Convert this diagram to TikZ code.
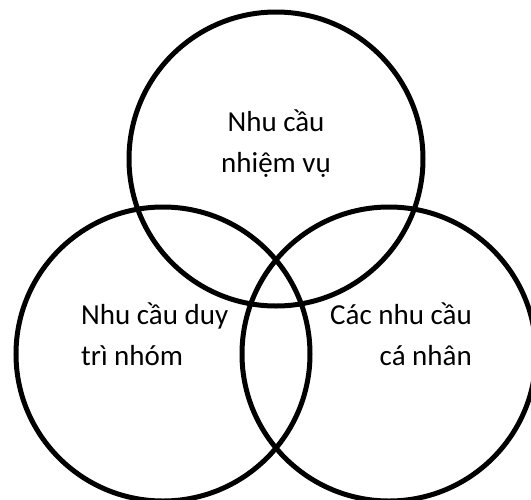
\documentclass[tikz,border=0pt]{standalone}
\usepackage{fontspec}
\setmainfont{Carlito}
\usepackage{tikz}
\usetikzlibrary{positioning}

\tikzset{
  needring/.style={line width=5pt,black},
  needtext/.style={inner sep=0pt,font=\fontsize{29}{41}\selectfont}
}

\begin{document}
\begin{tikzpicture}[x=1pt,y=-1pt]
  \useasboundingbox (0,0) rectangle (531,499);
  % three overlapping circles
  \draw[needring] (276,159) circle (147);
  \draw[needring] (163,354) circle (147);
  \draw[needring] (389,354) circle (147);
  % labels
  \node[needtext,align=center,anchor=base] (task) at (276,172) {Nhu cầu\\nhiệm vụ};
  \node[needtext,align=left,anchor=base west] (group) at (81,365) {Nhu cầu duy\\trì nhóm};
  \node[needtext,align=right,anchor=base east] (self) at (472,365) {Các nhu cầu\\cá nhân};
\end{tikzpicture}
\end{document}
